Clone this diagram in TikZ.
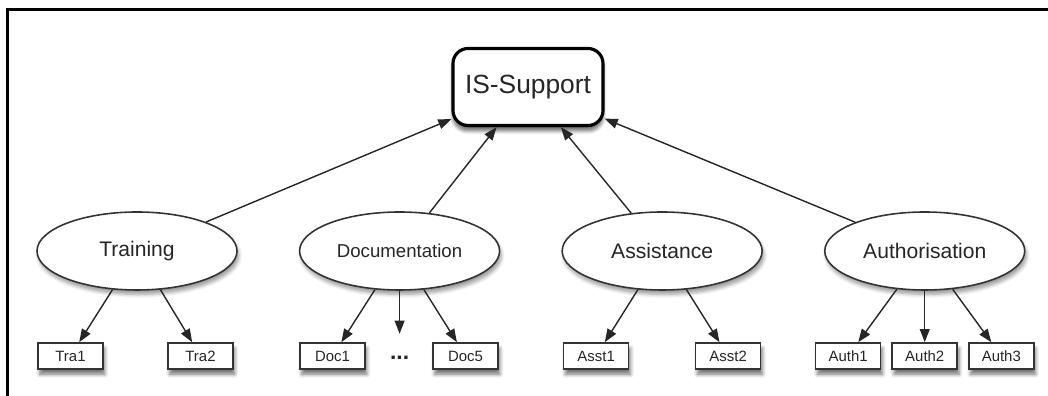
\documentclass[tikz,border=0pt]{standalone}
\usepackage{fontspec}
\setmainfont{Liberation Sans}
\usetikzlibrary{positioning,calc,arrows.meta,shapes.geometric,shadows.blur}

\tikzset{
 top/.style={draw=black, line width=1.8pt, rounded corners=0.3cm, fill=white,
   minimum width=3cm, minimum height=1.54cm, font=\fontsize{15}{18}\selectfont,
   blur shadow={shadow xshift=0pt, shadow yshift=-3pt, shadow blur steps=8, shadow opacity=60}},
 cat/.style={ellipse, draw=black!80, line width=0.9pt, fill=white, inner sep=0pt,
   minimum width=4cm, minimum height=1.56cm, font=\fontsize{12}{14}\selectfont,
   blur shadow={shadow xshift=1pt, shadow yshift=-2.5pt, shadow blur steps=5, shadow opacity=40}},
 leaf/.style={draw=black!80, line width=0.9pt, fill=white, inner sep=0pt,
   minimum width=1.3cm, minimum height=0.52cm, font=\fontsize{8.5}{10}\selectfont,
   blur shadow={shadow xshift=1pt, shadow yshift=-3pt, shadow blur steps=5, shadow opacity=55}},
 arr/.style={-{Triangle[length=7.5pt,width=5.6pt]}, draw=black!85, line width=0.8pt},
}

\begin{document}
\begin{tikzpicture}[text=black!85]
 \useasboundingbox (0,0) rectangle (20.96,7.92);
 \draw[line width=0.06cm] (20.96,7.72) -- (0.14,7.72) -- (0.14,0);
 %
 \node[top] (is) at (10.56,6.18) {IS-Support};
 \node[cat] (tra) at (2.74,2.9) {Training};
 \node[cat, right=1.22cm of tra, font=\fontsize{10.6}{13}\selectfont] (doc) {Documentation};
 \node[cat, right=1.22cm of doc] (ast) {Assistance};
 \node[cat, right=1.22cm of ast] (aut) {Authorisation};
 %
 \node[leaf] (tra1) at ($(tra)+(-1.33,-2.1)$) {Tra1};
 \node[leaf] (tra2) at ($(tra)+(1.27,-2.1)$) {Tra2};
 \node[leaf] (doc1) at ($(doc)+(-1.34,-2.1)$) {Doc1};
 \node[leaf] (doc5) at ($(doc)+(1.32,-2.1)$) {Doc5};
 \coordinate[below=0.86cm of doc.south] (docmid);
 \node[anchor=base, font=\fontsize{13}{15}\selectfont\bfseries] (etc) at ($(docmid)+(0,-0.52)$) {...};
 \node[leaf] (ast1) at ($(ast)+(-1.32,-2.1)$) {Asst1};
 \node[leaf] (ast2) at ($(ast)+(1.32,-2.1)$) {Asst2};
 \node[leaf] (aut2) at ($(aut)+(0,-2.1)$) {Auth2};
 \node[leaf, left=0.2cm of aut2] (aut1) {Auth1};
 \node[leaf, right=0.2cm of aut2] (aut3) {Auth3};
 %
 \foreach \c in {tra,doc,ast,aut} \draw[arr] (\c) -- (is);
 \foreach \p/\c in {tra/tra1,tra/tra2,doc/doc1,doc/doc5,ast/ast1,ast/ast2,aut/aut1,aut/aut2,aut/aut3}
   \draw[arr] (\p) -- (\c);
 \draw[arr] (doc.south) -- (docmid);
\end{tikzpicture}
\end{document}
